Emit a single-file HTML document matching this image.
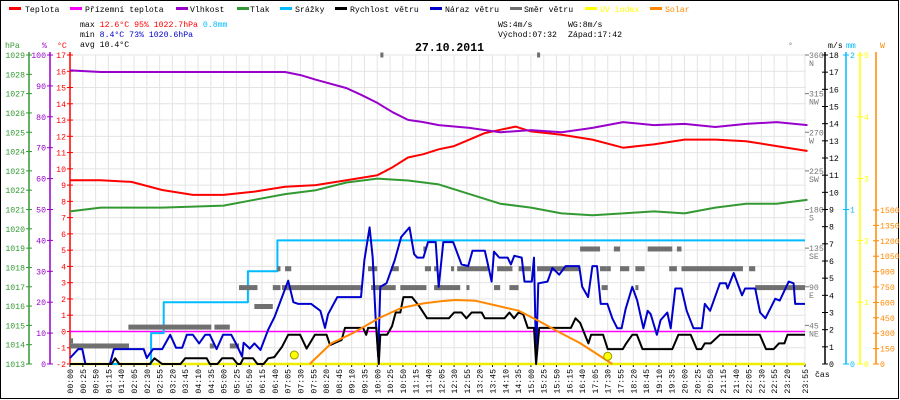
<!DOCTYPE html>
<html><head><meta charset="utf-8"><style>
html,body{margin:0;padding:0;background:#fff}
svg{display:block;font-family:"Liberation Mono",monospace}
</style></head><body>
<svg id="c" width="900" height="400" viewBox="0 0 900 400">
<rect x="0.5" y="0.5" width="898" height="398" fill="#fff" stroke="#000"/>
<g id="legend" font-size="8.2">
<g><rect x="9" y="7" width="12" height="3" fill="#f00"/><text x="25" y="12">Teplota</text></g>
<g><rect x="70" y="7" width="12" height="3" fill="#f0f"/><text x="85" y="12">Přízemní teplota</text></g>
<g><rect x="176" y="7" width="12" height="3" fill="#90c"/><text x="190" y="12">Vlhkost</text></g>
<g><rect x="237" y="7" width="12" height="3" fill="#393"/><text x="250" y="12">Tlak</text></g>
<g><rect x="280" y="7" width="12" height="3" fill="#0bf"/><text x="295" y="12">Srážky</text></g>
<g><rect x="335" y="7" width="12" height="3" fill="#000"/><text x="350" y="12">Rychlost větru</text></g>
<g><rect x="430" y="7" width="12" height="3" fill="#00c"/><text x="445" y="12">Náraz větru</text></g>
<g><rect x="510" y="7" width="12" height="3" fill="#707070"/><text x="524" y="12">Směr větru</text></g>
<g><rect x="585" y="7" width="12" height="3" fill="#ff0"/><text x="600" y="12" fill="#ff0">UV index</text></g>
<g><rect x="650" y="7" width="12" height="3" fill="#f80"/><text x="665" y="12" fill="#f80">Solar</text></g>
</g>
<g font-size="8.2">
<text x="80" y="27">max <tspan fill="#f00">12.6°C</tspan>  <tspan fill="#f00">95%</tspan>  <tspan fill="#f00">1022.7hPa</tspan>   <tspan fill="#0bf">0.8mm</tspan></text>
<text x="80" y="37">min  <tspan fill="#00c">8.4°C</tspan>  <tspan fill="#00c">73%</tspan>  <tspan fill="#00c">1020.6hPa</tspan></text>
<text x="80" y="47">avg 10.4°C</text>
<text x="498" y="27">WS:4m/s</text><text x="568" y="27">WG:8m/s</text>
<text x="498" y="37">Východ:07:32</text><text x="568" y="37">Západ:17:42</text>
</g>
<text x="415" y="51" font-size="11.5" font-weight="bold">27.10.2011</text>
<g id="grid"></g>
<g id="axes"></g>
<g id="series"></g>
</svg>
<script>
// ---- data ----
const tempHours=[0,1,2,3,4,5,6,7,8,9,10,10.5,11,11.5,12,12.5,13,13.5,14,14.5,15,16,17,18,19,20,21,22,23,24];
const tempValues=[9.3,9.3,9.2,8.7,8.4,8.4,8.6,8.9,9.0,9.3,9.6,10.1,10.7,10.9,11.2,11.4,11.8,12.2,12.4,12.6,12.3,12.1,11.8,11.3,11.5,11.8,11.8,11.7,11.4,11.1];
const humHours=[0,1,2,3,4,5,6,7,7.5,8,9,9.5,10,10.5,11,11.5,12,13,14,15,16,17,18,19,20,21,22,23,24];
const humValues=[95,94.5,94.5,94.5,94.5,94.5,94.5,94.5,93.5,92,89.3,87,84.5,81.5,79,78.3,77.3,76.4,75,75.7,75,76.4,78.3,77.3,77.7,76.7,77.7,78.3,77.3];
const presHours=[0,1,3,5,6,7,8,9,10,11,12,13,14,15,16,17,18,19,20,21,22,23,24];
const presValues=[1020.9,1021.1,1021.1,1021.2,1021.5,1021.8,1022.0,1022.4,1022.6,1022.5,1022.3,1021.8,1021.3,1021.1,1020.8,1020.7,1020.8,1020.9,1020.8,1021.1,1021.3,1021.3,1021.5];
const rainHours=[0,2.64,3.05,5.79,6.75,23.92];
const rainValues=[0,0.2,0.4,0.6,0.8,0.8];
const gustHours=[0,0.27,0.4,0.5,1.3,1.43,2.4,2.5,2.7,3.0,3.26,3.45,3.65,3.8,4.0,4.2,4.4,4.55,4.77,4.98,5.25,5.4,5.6,5.65,5.85,6.0,6.2,6.45,6.66,6.9,7.1,7.27,7.43,7.85,8.15,8.3,8.4,8.7,9.47,9.58,9.75,9.85,9.95,10.03,10.1,10.3,10.57,10.78,11.05,11.2,11.3,11.5,11.65,11.8,11.9,12.0,12.15,12.47,12.74,12.96,13.1,13.5,13.6,13.72,13.8,13.97,14.24,14.35,14.46,14.7,14.79,15.03,15.1,15.17,15.24,15.54,15.7,15.92,16.13,16.57,16.67,16.86,17.0,17.15,17.27,17.49,17.65,17.81,17.95,18.08,18.3,18.46,18.66,18.8,18.9,19.1,19.22,19.44,19.55,19.7,19.9,20.07,20.29,20.56,20.66,20.83,21.15,21.35,21.4,21.6,21.87,21.97,22.3,22.46,22.63,22.95,23.1,23.39,23.55,23.6,23.92];
const gustValues=[0.35,0.87,0.87,0,0,0.87,0.87,0.35,0.87,0.87,1.7,0.95,0.95,1.7,1.7,1.2,1.7,1.7,0.87,1.7,1.7,1.2,0.43,1.24,0.9,1.2,0.82,2.0,2.75,3.9,4.85,3.6,3.5,3.5,3.1,2.1,2.9,3.9,3.9,6.06,7.96,6.2,2.56,0.43,4.5,4.7,6.06,7.4,7.96,6.4,6.2,6.2,7.1,7.1,7.1,4.5,7.1,7.1,5.8,5.7,6.6,6.6,5.8,4.8,6.55,6.2,6.2,5.8,6.3,6.2,4.8,4.8,6.2,0.33,4.7,4.8,5.6,5.2,5.7,5.7,4.5,3.9,5.7,5.7,3.5,3.5,2.66,2.08,2.08,3.2,4.5,3.7,2.08,3.1,2.9,1.7,2.56,3.0,2.08,4.4,4.4,3.1,2.08,2.08,3.5,3.1,4.7,4.7,4.4,5.3,4.0,4.4,4.4,3.0,2.66,3.8,3.7,4.8,4.7,3.5,3.5];
const speedHours=[0,1.35,1.47,1.6,2.6,2.75,3.0,3.6,3.75,4.45,4.55,4.8,4.95,5.3,5.45,5.55,5.64,5.96,6.1,6.3,6.45,6.65,6.9,7.1,7.49,7.7,7.97,8.35,8.46,8.84,8.95,9.54,9.64,9.7,9.97,10.05,10.1,10.32,10.48,10.6,10.75,10.85,11.13,11.35,11.62,12.33,12.5,12.74,12.9,13.07,13.4,13.5,14.14,14.3,14.45,14.6,14.75,14.9,15.1,15.17,15.27,16.3,16.45,16.6,16.87,16.96,17.35,17.5,17.99,18.1,18.3,18.45,18.63,19.6,19.8,20.2,20.4,20.55,20.66,20.85,21.15,22.45,22.65,22.9,23.07,23.25,23.35,23.92];
const speedValues=[0,0,0.33,0,0,0.33,0,0,0.33,0.33,0,0,0.33,0.33,0,0,0.33,0.33,0,0,0.33,0.4,1.0,1.7,1.7,0.9,1.7,1.7,1.1,1.4,2.1,2.1,1.7,2.1,2.1,0,1.7,1.7,2.2,3.0,3.0,3.9,3.9,3.4,2.66,2.66,3.0,3.0,2.66,3.0,3.0,2.66,2.66,3.0,2.66,3.0,2.9,2.1,2.1,0,2.1,2.1,2.66,2.4,1.2,1.7,1.7,0.87,0.87,1.2,1.7,1.7,0.87,0.87,1.7,1.7,0.87,0.87,1.2,1.2,1.7,1.7,0.87,0.87,1.2,1.2,1.7,1.7];
const solarHours=[7.8,8.5,9.2,10.05,10.78,11.5,12.1,12.55,13.2,13.8,14.6,15.2,15.97,16.6,17.2,17.65];
const solarValues=[0,201,300,446,545,590,613,623,616,575,519,428,302,204,88,0];
const uvHours=[7.3,17.5];
const uvValues=[0.08,0.06];
const dirStart=[-0.1,0,1.9,4.7,4.55,5.2,5.5,6.0,6.6,6.9,9.8,10.75,11.85,6.75,7.0,9.7,10.45,11.55,11.5,11.9,12.9,13.8,14.3,17.3,18.4,22.3,11.85,12.4,12.6,13.9,14.6,15.2,17.25,17.45,17.9,18.4,19.5,19.9,22.1,16.6,17.7,18.8,19.75,10.1,15.2];
const dirEnd=[0.1,1.92,4.6,5.2,4.7,5.5,6.1,6.6,6.85,9.5,10.6,11.6,12.1,6.85,7.2,10.0,10.7,11.75,11.6,12.7,13.0,14.0,14.6,17.5,18.5,23.92,11.95,12.5,13.6,14.4,15.0,16.6,17.45,17.6,18.2,18.7,19.75,21.9,22.3,17.25,17.9,19.6,19.9,10.2,15.3];
const dirDeg=[27,21,43,43,21,21,89,67,89,89,89,89,89,111,111,111,111,111,134,89,89,89,89,89,89,89,111,111,111,111,111,111,111,111,111,111,111,111,111,134,134,134,134,360,360];
const tickLabels=[];for(let m=0;m<=1410;m+=25){tickLabels.push(m);}tickLabels.push(1435);

// ---- scales ----
const X0=70,X1=805,YT=55,YB=364;
const xH=h=>X0+h*(X1-X0)/23.92;
const yT=t=>YB-(t+2)*(YB-YT)/19;
const yP=p=>YB-(p-1013)*(YB-YT)/16;
const yH=v=>YB-v*(YB-YT)/100;
const yW=v=>YB-v*(YB-YT)/18;
const yR=v=>YB-v*(YB-YT)/2;
const yUV=v=>YB-v*(YB-YT)/5;
const ySol=v=>YB-v*(YB-210)/1500;
const yD=d=>YB-d*(YB-YT)/360;
const NS="http://www.w3.org/2000/svg";
function mk(tag,attrs,parent){const e=document.createElementNS(NS,tag);for(const k in attrs)e.setAttribute(k,attrs[k]);parent.appendChild(e);return e;}
const grid=document.getElementById('grid'),axes=document.getElementById('axes'),ser=document.getElementById('series');

// grid
for(let t=-2;t<=17;t++){const l=mk('line',{x1:X0,x2:X1+1,y1:yT(t),y2:yT(t),stroke:'#e4e4e4'},grid);

}
tickLabels.forEach(m=>{const x=xH(m/60);const l=mk('line',{x1:x,x2:x,y1:YT,y2:YB,stroke:'#e4e4e4'},grid);


const tk=mk('line',{x1:x,x2:x,y1:YB,y2:YB+3,stroke:'#000'},axes);


const hh=String(Math.floor(m/60)).padStart(2,'0'),mm=String(m%60).padStart(2,'0');
const tx=mk('text',{x:0,y:0,'font-size':'8.2','text-anchor':'end',transform:`translate(${x+3},${YB+5}) rotate(-90)`},axes);tx.textContent=hh+':'+mm;

});
const cas=mk('text',{x:815,y:377,'font-size':'8.2'},axes);cas.textContent='čas';



// left axes
function vaxis(x,col,vals,yf,lx,anchor,title,tx,name){
 const l=mk('line',{x1:x,x2:x,y1:YT-3,y2:YB,stroke:col,'stroke-width':1.5},axes);
 
 
 const tt=mk('text',{x:tx,y:48,'font-size':'8.2',fill:col},axes);tt.textContent=title;
 
 
 vals.forEach(v=>{const y=yf(v);mk('line',{x1:x-3,x2:x+3,y1:y,y2:y,stroke:col},axes);
  const t=mk('text',{x:lx,y:y+3,'font-size':'8.2',fill:col,'text-anchor':anchor},axes);t.textContent=v;
  
  });
}
const hpaTicks=[];for(let p=1013;p<=1029;p++)hpaTicks.push(p);
const pctTicks=[0,10,20,30,40,50,60,70,80,90,100];
const cTicks=[];for(let t=-2;t<=17;t++)cTicks.push(t);
vaxis(29,'#393',hpaTicks,yP,25,'end','hPa',5,'hpa-axis');
vaxis(50,'#90c',pctTicks,yH,46,'end','%',42,'humidity-axis');
vaxis(70,'#f00',cTicks,yT,66,'end','°C',57,'temp-axis');
// right axes
const msTicks=[];for(let v=0;v<=18;v++)msTicks.push(v);
vaxis(825,'#000',msTicks,yW,829,'start','m/s',828,'wind-axis');
vaxis(846,'#0bf',[0,1,2],yR,850,'start','mm',846,'rain-axis');
vaxis(860,'#ff0',[0,1,2,3,4,5],yUV,864,'start','',864,'uv-axis');
mk('line',{x1:876,x2:876,y1:YT-3,y2:YB,stroke:'#f80','stroke-width':1.5},axes);
const wt=mk('text',{x:880,y:48,'font-size':'8.2',fill:'#f80'},axes);wt.textContent='W';


const solTicks=[0,150,300,450,600,750,900,1050,1200,1350,1500];
solTicks.forEach(v=>{const y=ySol(v);mk('line',{x1:873,x2:879,y1:y,y2:y,stroke:'#f80'},axes);
 const t=mk('text',{x:880,y:y+3,'font-size':'8.2',fill:'#f80'},axes);t.textContent=v;
 
 });
const dirTicks=[45,90,135,180,225,270,315,360];const dirNames=['NE','E','SE','S','SW','W','NW','N'];
const dg=mk('text',{x:788,y:48,'font-size':'8.2',fill:'#777'},axes);dg.textContent='°';
dirTicks.forEach((d,i)=>{const y=yD(d);mk('line',{x1:805,x2:809,y1:y,y2:y,stroke:'#777'},axes);
 const t=mk('text',{x:809,y:y+3,'font-size':'8.2',fill:'#777'},axes);t.textContent=d;
 
 
 const n=mk('text',{x:809,y:y+11,'font-size':'8.2',fill:'#777'},axes);n.textContent=dirNames[i];
 
 });

// series
function line(hs,vs,yf,col,w,name){const pts=hs.map((h,i)=>xH(h).toFixed(1)+','+yf(vs[i]).toFixed(1)).join(' ');
 const p=mk('polyline',{points:pts,fill:'none',stroke:col,'stroke-width':w,'stroke-linejoin':'round'},ser);
 
 }
const zl=mk('line',{x1:X0,x2:X1,y1:yT(0),y2:yT(0),stroke:'#f0f','stroke-width':1.5},ser);


const uvl=mk('line',{x1:X0,x2:X1,y1:YB,y2:YB,stroke:'#ee0','stroke-width':2.5},ser);


// rain as step line
{const hs=[],vs=[];rainHours.forEach((h,i)=>{if(i>0){hs.push(h);vs.push(rainValues[i-1]);}hs.push(h);vs.push(rainValues[i]);});line(hs,vs,yR,'#0bf',2,'rain-line');}
dirStart.forEach((s,i)=>{const x=xH(Math.max(s,0));const r=mk('rect',{x:x,y:yD(dirDeg[i])-2.5,width:Math.max(3,xH(dirEnd[i])-x),height:5,fill:'#707070'},ser);
 
 });
line(presHours,presValues,yP,'#393',2,'pressure-line');
line(tempHours,tempValues,yT,'#f00',2,'temperature-line');
line(humHours,humValues,yH,'#90c',2,'humidity-line');
line(gustHours,gustValues,yW,'#00c',2,'wind-gust-line');
line(speedHours,speedValues,yW,'#000',2,'wind-speed-line');
line(solarHours,solarValues,ySol,'#f80',2,'solar-line');
uvHours.forEach((h,i)=>{const c=mk('circle',{cx:xH(h),cy:yUV(uvValues[i])-4,r:4,fill:'#ff0',stroke:'#990'},ser);
 
 });
</script>
</body></html>
